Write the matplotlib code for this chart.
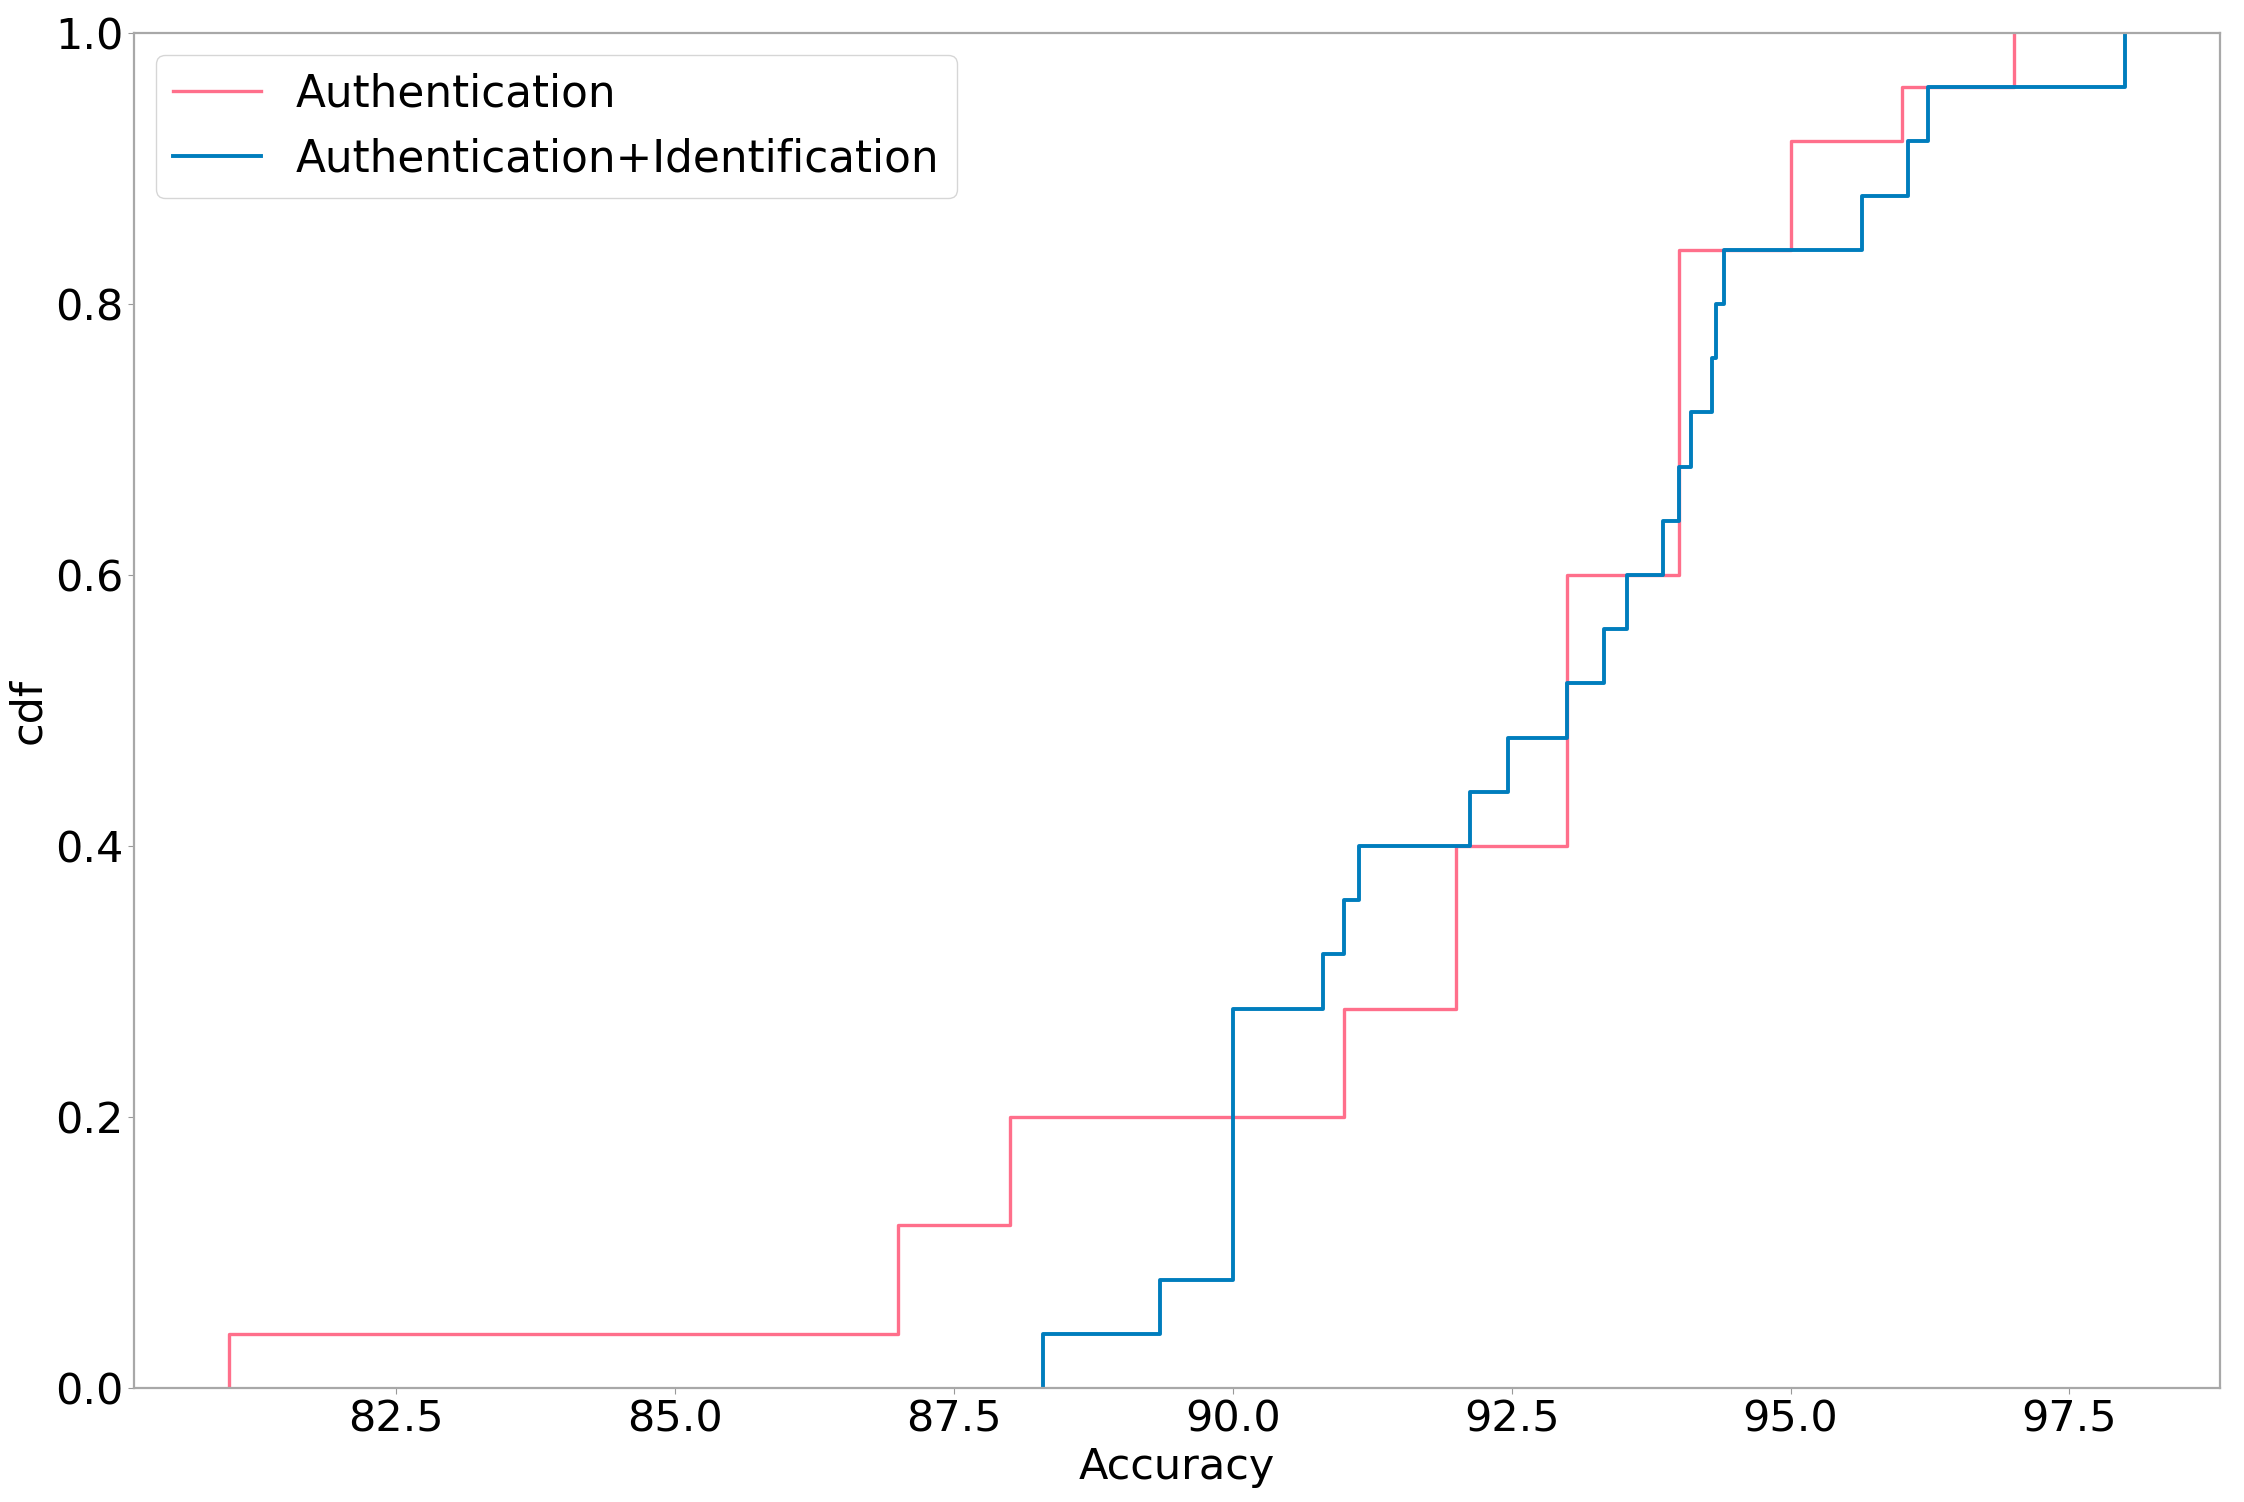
import numpy as np
import matplotlib.pyplot as plt

# accuracy values (25 runs each)
auth = [81.0, 87.0, 87.0, 88.0, 88.0, 91.0, 91.0, 92.0, 92.0, 92.0,
        93.0, 93.0, 93.0, 93.0, 93.0, 94.0, 94.0, 94.0, 94.0, 94.0, 94.0,
        95.0, 95.0, 96.0, 97.0]
auth_ident = [88.3, 89.35, 90.0, 90.0, 90.0, 90.0, 90.0, 90.81, 91.0, 91.13,
              92.13, 92.47, 93.0, 93.33, 93.53, 93.86, 94.0, 94.11, 94.3,
              94.33, 94.4, 95.64, 96.05, 96.23, 98.0]
labels = ['Authentication', 'Authentication+Identification']
colors = ['#ff6f8b', '#007dbd']
widths = [2.4, 2.8]

fig = plt.figure(figsize=(22.44, 15.02), dpi=100)
ax = fig.add_axes([0.0597, 0.0759, 0.9296, 0.9021])

for data, lab, col, lw in zip([auth, auth_ident], labels, colors, widths):
    x = np.sort(np.array(data))
    cdf = np.arange(1, len(x) + 1) / len(x)
    ax.step(np.r_[x[0], x], np.r_[0, cdf], where='post', color=col, lw=lw, label=lab)

ax.set_ylim(0, 1)
ax.set_xticks([82.5, 85.0, 87.5, 90.0, 92.5, 95.0, 97.5])
ax.set_xlabel('Accuracy', fontsize=31)
ax.set_ylabel('cdf', fontsize=31)
ax.tick_params(labelsize=31, color='#999999', length=4)
for s in ax.spines.values():
    s.set_color('#a8a8a8')
    s.set_linewidth(1.6)

ax.legend(loc='upper left', fontsize=31.5)

plt.savefig('out.png', dpi=100)
